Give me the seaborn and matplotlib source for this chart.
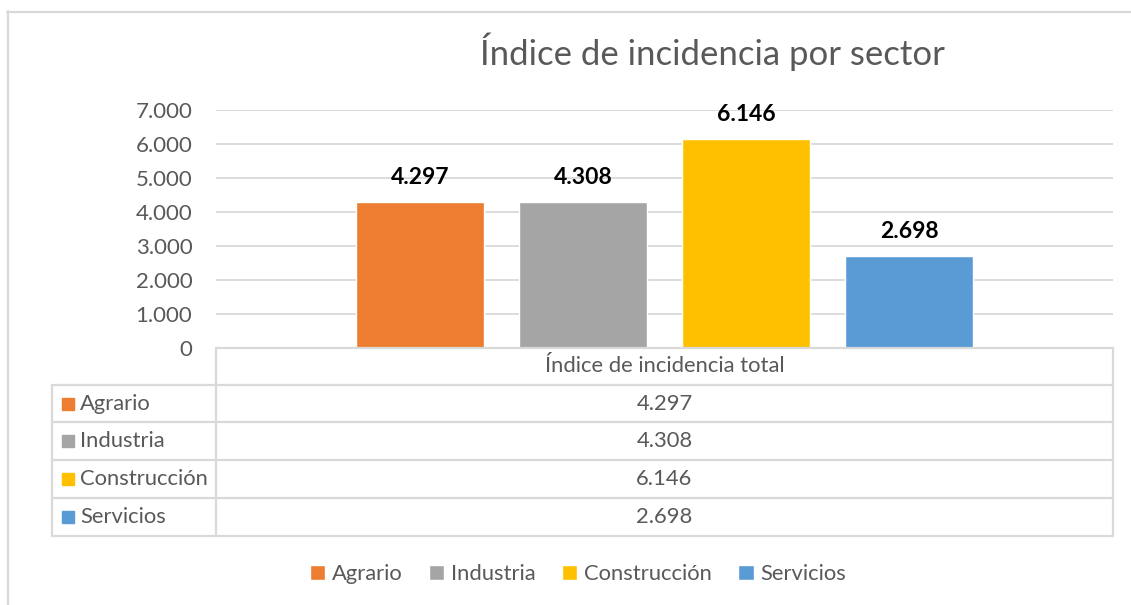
import pandas as pd
import matplotlib.pyplot as plt
import seaborn as sns
from matplotlib.patches import Rectangle
from matplotlib.lines import Line2D

# Datos del gráfico
sectores = ["Agrario", "Industria", "Construcción", "Servicios"]
valores = [4297, 4308, 6146, 2698]
colores = ["#ED7D31", "#A5A5A5", "#FFC000", "#5B9BD5"]
categoria = "Índice de incidencia total"
titulo = "Índice de incidencia por sector"
y_ticks = [0, 1000, 2000, 3000, 4000, 5000, 6000, 7000]

W, H = 1131, 605
TXT = "#595959"
LINEA = "#d9d9d9"
FS = 15.8


def fmt(v):
    # separador de miles con punto
    return f"{int(round(v)):,}".replace(",", ".")


def fx(x):
    return x / W


def fy(y):
    return 1 - y / H


sns.set_theme(style="white")
plt.rcParams["font.family"] = ["Lato", "DejaVu Sans"]

df = pd.DataFrame({"grupo": categoria, "sector": sectores, "valor": valores})

fig = plt.figure(figsize=(W / 100, H / 100), dpi=100)
ax = fig.add_axes([fx(216), fy(348), fx(1113) - fx(216), (348 - 110) / H])

sns.barplot(data=df, x="grupo", y="valor", hue="sector", palette=colores,
            width=0.727, gap=0.21, ax=ax, saturation=1)

ax.set_xlim(-0.5, 0.5)
ax.set_ylim(0, 7000)
ax.set_yticks(y_ticks)
ax.set_yticklabels([fmt(t) for t in y_ticks], color=TXT, fontsize=16)
ax.tick_params(axis="y", length=0, pad=17)
ax.set_xticks([])
ax.set_xlabel("")
ax.set_ylabel("")
for s in ax.spines.values():
    s.set_visible(False)
for t in y_ticks[1:]:
    ax.axhline(t, color=LINEA, lw=1.3, zorder=0)

for cont in ax.containers:
    ax.bar_label(cont, labels=[fmt(v) for v in cont.datavalues], padding=10,
                 fontsize=16.5, fontweight="bold", color="black")

# Leyenda inferior
sns.move_legend(ax, "center", bbox_to_anchor=(fx(578), fy(574)),
                bbox_transform=fig.transFigure, ncol=4, frameon=False,
                title=None, fontsize=FS, handlelength=0.7, handleheight=0.7,
                handletextpad=0.3, columnspacing=1.2, labelcolor=TXT)

# Título
fig.text(fx(712), fy(52), titulo, ha="center", va="center", fontsize=25,
         color=TXT)

# Tabla de datos
def hline(y, x0, x1):
    fig.add_artist(Line2D([fx(x0), fx(x1)], [fy(y), fy(y)], color=LINEA, lw=1.6))


def vline(x, y0, y1):
    fig.add_artist(Line2D([fx(x), fx(x)], [fy(y0), fy(y1)], color=LINEA, lw=1.6))


hline(348, 216, 1113)
filas = [385, 422, 460, 498, 536]
for y in filas:
    hline(y, 52, 1113)
vline(216, 348, 536)
vline(1113, 348, 536)
vline(52, 385, 536)

fig.text(fx(664.5), fy(366), categoria, ha="center", va="center",
         fontsize=FS, color=TXT)
for i, (s, v, c) in enumerate(zip(sectores, valores, colores)):
    yc = (filas[i] + filas[i + 1]) / 2
    fig.add_artist(Rectangle((fx(62), fy(yc + 6)), fx(12), 12 / H,
                             color=c, transform=fig.transFigure))
    fig.text(fx(80), fy(yc), s, ha="left", va="center", fontsize=FS, color=TXT)
    fig.text(fx(664.5), fy(yc), fmt(v), ha="center", va="center",
             fontsize=FS, color=TXT)

# Marco del gráfico
fig.add_artist(Line2D([fx(7.5), fx(7.5)], [fy(11), 0], color=LINEA, lw=1.6))
fig.add_artist(Line2D([fx(7), 1], [fy(11.5), fy(11.5)], color=LINEA, lw=1.6))

fig.savefig("out.png", dpi=100)
